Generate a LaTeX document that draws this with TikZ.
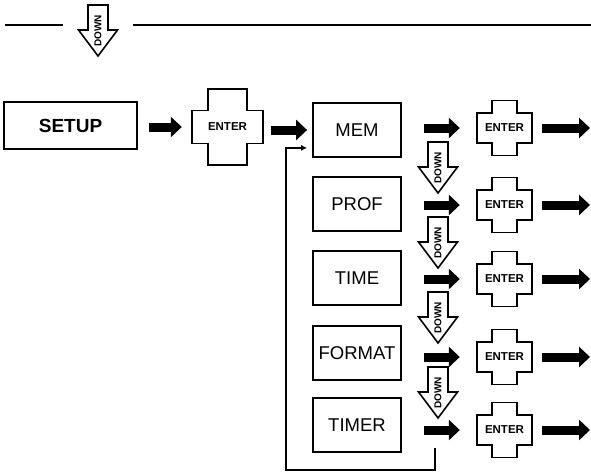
\documentclass[tikz,border=0pt]{standalone}
\usepackage{fontspec}
\setmainfont{Liberation Sans}
\usetikzlibrary{arrows.meta}

\tikzset{
  keyline/.style={line width=1.8pt, line join=miter},
  menu/.style={draw, line width=1.8pt, minimum width=88pt, minimum height=54pt, inner sep=0pt,
    font=\fontsize{18.5}{18.5}\selectfont},
  blk/.style={line width=9pt, -{Triangle[length=11pt,width=20pt]}},
  keytext/.style={font=\bfseries\fontsize{11.5}{11.5}\selectfont, inner sep=0pt},
  downtext/.style={font=\bfseries\fontsize{10}{10}\selectfont, rotate=90, inner sep=0pt},
  rule/.style={line width=1.4pt},
  pics/enterkey/.style n args={4}{code={
    \draw[keyline] (-#1,-#4) -- (-#1,#4) -- (-#3,#4) -- (-#3,#2) -- (#3,#2) -- (#3,#4)
      -- (#1,#4) -- (#1,-#4) -- (#3,-#4) -- (#3,-#2) -- (-#3,-#2) -- (-#3,-#4) -- cycle;
    \node[minimum width={2*#1pt}, minimum height={2*#2pt}, inner sep=0pt] (-box) {};
    \node[keytext] (-lbl) {ENTER};
  }},
  pics/downkey/.style={code={
    \draw[line width=1.6pt] (-10,0) -- (10,0) -- (10,25) -- (19.5,25) -- (0,51)
      -- (-19.5,25) -- (-10,25) -- cycle;
    \node[downtext] (-lbl) at (0,26) {DOWN};
  }},
}

\begin{document}
\begin{tikzpicture}[x=1pt, y=-1pt]
  \useasboundingbox (0,0) rectangle (591,474);

  % top rule with DOWN key
  \pic (down0) at (98,5) {downkey};
  \coordinate (topL) at (5,25);
  \coordinate (topR) at (591,25);
  \draw[rule] (topL) -- (63,25);
  \draw[rule] (133,25) -- (topR);

  % setup and first enter
  \node[draw, line width=1.8pt, minimum width=133pt, minimum height=47pt,
    font=\bfseries\fontsize{19}{19}\selectfont] (setup) at (70.5,125.5) {SETUP};
  \pic (e0) at (227.5,127) {enterkey={35.5}{38}{19.5}{16.5}};
  \draw[blk, shorten <=11pt, shorten >=10pt] (setup.east |- e0-box.west) -- (e0-box.west);

  % menu column
  \foreach \nm/\txt/\by/\ry in {mem/MEM/130/128, prof/PROF/204/205, time/TIME/278/279,
      format/FORMAT/353/357, timer/TIMER/425/430} {
    \node[menu] (\nm) at (357,\by) {\txt};
    \pic (\nm-key) at (504.5,\ry) {enterkey={27.5}{27.5}{12.25}{15}};
    \draw[blk, shorten <=22pt, shorten >=17pt] (\nm.east |- \nm-key-box.west) -- (\nm-key-box.west);
    \coordinate (\nm-out) at (590,\ry);
    \draw[blk, shorten <=10pt] (\nm-key-box.east) -- (\nm-out);
  }
  \draw[blk, shorten <=8pt, shorten >=5pt] (e0-box.east |- mem.west) -- (mem.west);

  \foreach \y [count=\i] in {142,217,292,367}
    \pic (down\i) at (438,\y) {downkey};

  % return to MEM
  \coordinate (ret) at (435,448);
  \draw[line width=1.8pt, -{Latex[length=6pt,width=6pt]}, shorten >=5pt]
    (ret) -- ++(0,22) -| ([xshift=-26pt, yshift=10pt]mem.south west) -- ([yshift=10pt]mem.south west);
\end{tikzpicture}
\end{document}
